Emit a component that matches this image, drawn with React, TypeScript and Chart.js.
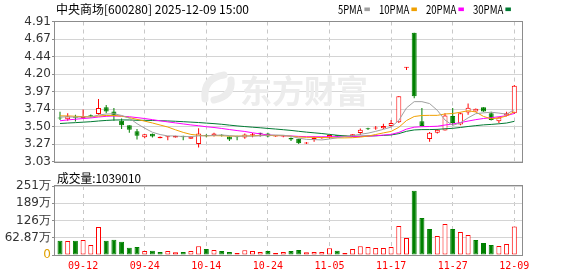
import React, { useEffect, useRef } from 'react';
import { Chart, registerables } from 'chart.js';

Chart.register(...registerables);

// ---------- data ----------
const dates = [
  '09-09', '09-10', '09-11', '09-12', '09-15', '09-16', '09-17', '09-18', '09-19', '09-22',
  '09-23', '09-24', '09-25', '09-26', '09-29', '09-30', '10-09', '10-10', '10-13', '10-14',
  '10-15', '10-16', '10-17', '10-20', '10-21', '10-22', '10-23', '10-24', '10-27', '10-28',
  '10-29', '10-30', '10-31', '11-03', '11-04', '11-05', '11-06', '11-07', '11-10', '11-11',
  '11-12', '11-13', '11-14', '11-17', '11-18', '11-19', '11-20', '11-21', '11-24', '11-25',
  '11-26', '11-27', '11-28', '12-01', '12-02', '12-03', '12-04', '12-05', '12-08', '12-09',
];
const tickDates = ['09-12', '09-24', '10-14', '10-24', '11-05', '11-17', '11-27', '12-09'];

const opens = [
  3.62, 3.60, 3.625, 3.615, 3.655, 3.67, 3.76, 3.705, 3.58, 3.52,
  3.44, 3.36, 3.405, 3.345, 3.36, 3.357, 3.38, 3.34, 3.27, 3.39,
  3.38, 3.39, 3.37, 3.365, 3.355, 3.385, 3.405, 3.41, 3.37, 3.37,
  3.35, 3.34, 3.275, 3.33, 3.345, 3.355, 3.385, 3.37, 3.37, 3.415,
  3.47, 3.475, 3.48, 3.51, 3.56, 4.29, 4.76, 3.575, 3.335, 3.42,
  3.45, 3.645, 3.53, 3.69, 3.705, 3.76, 3.68, 3.575, 3.65, 3.68,
];
const highs = [
  3.70, 3.68, 3.66, 3.73, 3.665, 3.87, 3.79, 3.75, 3.61, 3.52,
  3.47, 3.40, 3.41, 3.37, 3.375, 3.378, 3.38, 3.375, 3.48, 3.40,
  3.42, 3.40, 3.37, 3.38, 3.41, 3.415, 3.42, 3.42, 3.38, 3.385,
  3.355, 3.34, 3.295, 3.37, 3.36, 3.39, 3.39, 3.38, 3.40, 3.475,
  3.485, 3.51, 3.54, 3.59, 3.91, 4.30, 4.76, 3.75, 3.43, 3.47,
  3.68, 3.75, 3.69, 3.81, 3.745, 3.76, 3.70, 3.63, 3.70, 4.06,
];
const lows = [
  3.59, 3.58, 3.57, 3.61, 3.625, 3.66, 3.68, 3.58, 3.47, 3.42,
  3.33, 3.345, 3.355, 3.345, 3.32, 3.355, 3.32, 3.34, 3.22, 3.36,
  3.37, 3.37, 3.31, 3.32, 3.34, 3.36, 3.37, 3.36, 3.365, 3.36,
  3.31, 3.27, 3.27, 3.30, 3.34, 3.34, 3.365, 3.365, 3.365, 3.39,
  3.455, 3.46, 3.47, 3.50, 3.55, 4.26, 3.88, 3.505, 3.30, 3.41,
  3.45, 3.52, 3.52, 3.66, 3.70, 3.70, 3.585, 3.55, 3.64, 3.67,
];
const closes = [
  3.61, 3.64, 3.62, 3.635, 3.64, 3.75, 3.705, 3.64, 3.52, 3.46,
  3.38, 3.40, 3.37, 3.365, 3.37, 3.375, 3.36, 3.37, 3.41, 3.375,
  3.41, 3.38, 3.33, 3.36, 3.395, 3.40, 3.405, 3.37, 3.375, 3.38,
  3.33, 3.28, 3.29, 3.355, 3.36, 3.39, 3.37, 3.375, 3.40, 3.46,
  3.465, 3.49, 3.51, 3.55, 3.91, 4.30, 3.91, 3.51, 3.42, 3.46,
  3.65, 3.55, 3.68, 3.755, 3.74, 3.705, 3.59, 3.625, 3.68, 4.05,
];
// closes of the 29 sessions before 09-09 (needed for the moving averages)
const priorCloses = [
  3.45, 3.46, 3.44, 3.45, 3.47, 3.48, 3.47, 3.49, 3.48, 3.50,
  3.42, 3.43, 3.45, 3.48, 3.50, 3.52, 3.55, 3.58, 3.60, 3.62,
  3.64, 3.67, 3.68, 3.66, 3.65, 3.63, 3.64, 3.62, 3.65,
];
const volumes = [
  520000, 510000, 520000, 547000, 365000, 1020000, 520000, 560000, 486000, 267000,
  290000, 146000, 158000, 110000, 146000, 97000, 110000, 146000, 316000, 219000,
  182000, 146000, 110000, 73000, 170000, 146000, 110000, 146000, 73000, 110000,
  146000, 182000, 100000, 105000, 110000, 243000, 158000, 73000, 219000, 316000,
  290000, 255000, 255000, 290000, 1057000, 620000, 2345000, 1349000, 948000, 693000,
  1130000, 948000, 838000, 729000, 547000, 437000, 365000, 328000, 401000, 1039010,
];

const priceTickLabels = ['3.03', '3.27', '3.50', '3.74', '3.97', '4.20', '4.44', '4.67', '4.91'];
const priceMin = 3.03;
const priceMax = 4.91;
const volTickLabels = ['0', '62.87万', '126万', '189万', '251万'];
const volStep = 628700;

const maPeriods = [5, 10, 20, 30];
const maNames = ['5PMA', '10PMA', '20PMA', '30PMA'];
const maColors = ['#a0a0a0', '#f0a000', '#ff00ff', '#007a33'];

const titleText = '中央商场[600280] 2025-12-09 15:00';
const volTitleText = '成交量:1039010';
const watermarkText = '东方财富';

// ---------- helpers ----------
const RED = '#ff0000';
const GREEN = '#008000';
const X_MIN = -0.65;
const X_MAX = 60;
const tickIdx = tickDates.map((d) => dates.indexOf(d));

const allCloses = priorCloses.concat(closes);
function movingAverage(period: number) {
  const off = priorCloses.length;
  return closes.map((_, i) => {
    let s = 0;
    for (let k = 0; k < period; k++) s += allCloses[off + i - k];
    return { x: i, y: s / period };
  });
}

function candleColor(i: number) {
  if (closes[i] > opens[i]) return RED;
  if (closes[i] < opens[i]) return GREEN;
  return '#000000';
}
function volColor(i: number) {
  const prev = i === 0 ? priorCloses[priorCloses.length - 1] : closes[i - 1];
  return closes[i] >= prev ? RED : GREEN;
}

function drawFrame(chart: any) {
  const { ctx, chartArea } = chart;
  ctx.save();
  ctx.strokeStyle = '#8c8c8c';
  ctx.lineWidth = 1;
  const l = Math.round(chartArea.left) - 0.5;
  const t = Math.round(chartArea.top) - 0.5;
  const r = Math.round(chartArea.right) + 0.5;
  const b = Math.round(chartArea.bottom) + 0.5;
  ctx.strokeRect(l, t, r - l, b - t);
  ctx.restore();
}

const mainPlugin = {
  id: 'mainDecor',
  beforeDatasetsDraw(chart: any) {
    const { ctx } = chart;
    ctx.save();
    ctx.strokeStyle = '#ececec';
    ctx.lineWidth = 7;
    ctx.lineCap = 'round';
    ctx.beginPath();
    ctx.moveTo(205, 99);
    ctx.quadraticCurveTo(203, 78, 224, 75);
    ctx.stroke();
    ctx.beginPath();
    ctx.moveTo(214, 100);
    ctx.quadraticCurveTo(233, 96, 231, 80);
    ctx.stroke();
    ctx.fillStyle = '#ececec';
    ctx.font = "bold 32px 'Noto Sans CJK SC'";
    ctx.textBaseline = 'alphabetic';
    ctx.fillText(watermarkText, 240, 103, 138);
    ctx.restore();
  },
  afterDraw(chart: any) {
    const { ctx } = chart;
    drawFrame(chart);
    ctx.save();
    ctx.fillStyle = '#000';
    ctx.textBaseline = 'alphabetic';
    ctx.font = "12px 'Noto Sans CJK SC'";
    ctx.fillText(titleText, 56, 14, 197);
    let x = 338;
    maNames.forEach((name, k) => {
      const w = name.length * 6.1;
      ctx.fillStyle = '#000';
      ctx.font = "12px 'Noto Sans CJK SC'";
      ctx.fillText(name, x, 14, w);
      x += w + 2;
      ctx.fillStyle = maColors[k];
      ctx.fillRect(x, 7.5, 5.5, 3.6);
      x += 5.5 + 9;
    });
    ctx.restore();
  },
};

const volPlugin = {
  id: 'volDecor',
  afterDraw(chart: any) {
    const { ctx } = chart;
    drawFrame(chart);
    ctx.save();
    ctx.fillStyle = '#000';
    ctx.font = "12px 'Noto Sans CJK SC'";
    ctx.textBaseline = 'alphabetic';
    ctx.fillText(volTitleText, 57, 13, 84);
    ctx.restore();
  },
};

export default function App() {
  const mainRef = useRef<HTMLCanvasElement>(null);
  const volRef = useRef<HTMLCanvasElement>(null);

  useEffect(() => {
    const idx = closes.map((_, i) => i);

    const xScaleBase = {
      type: 'linear' as const,
      min: X_MIN,
      max: X_MAX,
      offset: false,
      afterBuildTicks: (s: any) => {
        s.ticks = tickIdx.map((v) => ({ value: v }));
      },
      grid: { color: '#c8c8c8', lineWidth: 1, drawTicks: false, offset: false },
      border: { display: false, dash: [4, 4] },
    };

    const main = new Chart(mainRef.current as HTMLCanvasElement, {
      type: 'bar',
      data: {
        datasets: [
          ...maPeriods.map((p, k) => ({
            type: 'line' as const,
            data: movingAverage(p),
            borderColor: maColors[k],
            borderWidth: 1,
            pointRadius: 0,
            tension: 0,
            fill: false,
            order: 0,
          })),
          {
            type: 'bar' as const,
            data: idx.map((i) => ({ x: i, y: [opens[i], closes[i]] })),
            backgroundColor: idx.map((i) => (closes[i] > opens[i] ? '#ffffff' : candleColor(i))),
            borderColor: idx.map((i) => candleColor(i)),
            borderWidth: 1,
            borderSkipped: false,
            barThickness: 5,
            minBarLength: 1,
            grouped: false,
            inflateAmount: 0,
            order: 1,
          } as any,
          {
            type: 'bar' as const,
            data: idx.map((i) => ({ x: i, y: [lows[i], highs[i]] })),
            backgroundColor: idx.map((i) => candleColor(i)),
            borderWidth: 0,
            barThickness: 1,
            grouped: false,
            inflateAmount: 0,
            order: 2,
          } as any,
        ],
      },
      options: {
        animation: false,
        responsive: false,
        maintainAspectRatio: false,
        layout: { padding: { top: 21.5, right: 56, bottom: 4, left: 0 } },
        plugins: { legend: { display: false }, tooltip: { enabled: false } },
        scales: {
          x: {
            ...xScaleBase,
            ticks: { display: false },
            afterFit: (s: any) => {
              s.height = 0;
            },
          },
          y: {
            min: priceMin,
            max: priceMax,
            afterBuildTicks: (s: any) => {
              s.ticks = priceTickLabels.map((_, k) => ({
                value: priceMin + (k * (priceMax - priceMin)) / (priceTickLabels.length - 1),
              }));
            },
            ticks: {
              callback: (_v: any, i: number) => priceTickLabels[i],
              font: { family: "'DejaVu Sans'", size: 12 },
              color: '#333333',
              padding: 1,
              autoSkip: false,
            },
            grid: { color: '#d4d4d4', tickLength: 3, tickColor: '#8c8c8c' },
            border: { display: false },
            afterFit: (s: any) => {
              s.width = 55;
            },
          },
        },
      } as any,
      plugins: [mainPlugin],
    });

    const vol = new Chart(volRef.current as HTMLCanvasElement, {
      type: 'bar',
      data: {
        datasets: [
          {
            data: idx.map((i) => ({ x: i, y: volumes[i] })),
            backgroundColor: idx.map((i) => (volColor(i) === RED ? '#ffffff' : GREEN)),
            borderColor: idx.map((i) => volColor(i)),
            borderWidth: 1,
            borderSkipped: false,
            barThickness: 5,
            inflateAmount: 0,
          } as any,
        ],
      },
      options: {
        animation: false,
        responsive: false,
        maintainAspectRatio: false,
        layout: { padding: { top: 16, right: 56, bottom: 0, left: 0 } },
        plugins: { legend: { display: false }, tooltip: { enabled: false } },
        scales: {
          x: {
            ...xScaleBase,
            ticks: {
              callback: (v: any) => dates[Math.round(v)],
              font: { family: "'DejaVu Sans Mono'", size: 10 },
              color: RED,
              padding: 5,
              maxRotation: 0,
              autoSkip: false,
            },
            afterFit: (s: any) => {
              s.height = 21;
            },
          },
          y: {
            min: 0,
            max: volStep * (volTickLabels.length - 1),
            afterBuildTicks: (s: any) => {
              s.ticks = volTickLabels.map((_, k) => ({ value: k * volStep }));
            },
            ticks: {
              callback: (_v: any, i: number) => volTickLabels[i],
              font: { family: "'DejaVu Sans'", size: 12 },
              color: (c: any) => (c.index === 0 ? '#e0a000' : '#333333'),
              padding: 1,
              autoSkip: false,
            },
            grid: { color: '#d4d4d4', tickLength: 3, tickColor: '#8c8c8c' },
            border: { display: false },
            afterFit: (s: any) => {
              s.width = 55;
            },
          },
        },
      } as any,
      plugins: [volPlugin],
    });

    return () => {
      main.destroy();
      vol.destroy();
    };
  }, []);

  return (
    <div style={{ position: 'absolute', left: 0, top: 0, width: 578, height: 276, background: '#ffffff' }}>
      <canvas
        ref={mainRef}
        width={578}
        height={170}
        style={{ position: 'absolute', left: 0, top: 0, width: 578, height: 170 }}
      />
      <canvas
        ref={volRef}
        width={578}
        height={106}
        style={{ position: 'absolute', left: 0, top: 170, width: 578, height: 106 }}
      />
    </div>
  );
}
